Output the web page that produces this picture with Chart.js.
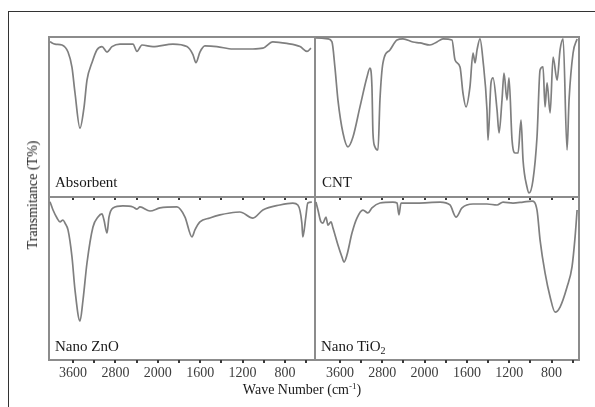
<!DOCTYPE html>
<html>
<head>
<meta charset="utf-8">
<script src="https://cdn.jsdelivr.net/npm/chart.js@4.4.1/dist/chart.umd.min.js"></script>
<style>
  body { margin: 0; background: #fff; }
  #page { position: relative; width: 595px; height: 407px; overflow: hidden; font-family: "Liberation Serif", serif; color: #1a1a1a; }
  #frame { position: absolute; left: 8px; top: 11px; width: 600px; height: 400px; border-top: 1px solid #333; border-left: 1px solid #333; }
  canvas { position: absolute; }
  .tag { position: absolute; font-size: 15px; line-height: 15px; white-space: nowrap; }
  .tag sub { font-size: 10px; line-height: 0; vertical-align: -3px; }
  #ytitle { position: absolute; left: 33px; top: 195px; font-size: 14px; white-space: nowrap; transform: translate(-50%, -50%) rotate(-90deg); }
  #xtitle { position: absolute; left: 302px; top: 383px; font-size: 14px; line-height: 14px; white-space: nowrap; transform: translateX(-50%); }
  #xtitle sup { font-size: 9px; line-height: 0; vertical-align: 5px; }
</style>
</head>
<body>
<div id="page">
  <div id="frame"></div>
  <canvas id="absorbent" width="286" height="180" style="left:39px;top:27px"></canvas>
  <canvas id="cnt" width="284" height="180" style="left:305px;top:27px"></canvas>
  <canvas id="zno" width="286" height="201" style="left:39px;top:187px"></canvas>
  <canvas id="tio2" width="284" height="201" style="left:305px;top:187px"></canvas>
  <div class="tag" style="left:55px;top:175px">Absorbent</div>
  <div class="tag" style="left:322px;top:175px">CNT</div>
  <div class="tag" style="left:55px;top:339px">Nano ZnO</div>
  <div class="tag" style="left:321px;top:339px">Nano TiO<sub>2</sub></div>
  <div id="ytitle">Transmitance (T%)</div>
  <div id="xtitle">Wave Number (cm<sup>-1</sup>)</div>
</div>
<script>
// axis ticks (cm-1), only some get a label
const tickValues = [3600, 3200, 2800, 2400, 2000, 1800, 1600, 1400, 1200, 1000, 800, 600];
const labelValues = [3600, 2800, 2000, 1600, 1200, 800];

// spectra: wave number and transmittance (% of panel height)
const absorbentWave = [4034,3940,3808,3694,3619,3562,3468,3392,3336,3241,3147,3053,2958,2864,2713,2468,2392,2298,2090,1857,1725,1668,1640,1602,1555,1442,1291,1103,1008,914,782,657,591,554];
const absorbentT = [97,95.6,95,90.6,81,65,43,56,73,84,92,94,90.6,94,95.6,95.6,91,95,94,95.6,94,89,84,90.6,94.4,94,92.5,92.5,93,97,96,94,91,93];

const cntWave = [4054,3827,3751,3695,3638,3543,3449,3354,3222,3089,3033,2995,2976,2938,2881,2844,2787,2655,2522,2409,2220,2087,1949,1883,1826,1741,1712,1665,1637,1608,1571,1542,1523,1504,1476,1448,1410,1400,1372,1353,1315,1296,1268,1249,1221,1202,1173,1145,1116,1088,1069,1031,1012,975,937,908,880,861,842,813,785,747,719,690,653,634,596,558];
const cntT = [99.4,98.8,96.9,81,60.6,40,31.3,37.5,56.3,75,80.6,68.8,40,31.3,29.4,60.6,83.8,91.9,98.1,98.8,96.9,96.3,95,96.9,98.8,98.1,85.6,81.3,65,56.3,68.8,90,83.8,91.9,98.8,85.6,54.4,35.6,71.3,74.4,54.4,40,60.6,77.5,60.6,74.4,35.6,27.5,27.5,48,23,6,2.5,10.6,37.5,79.4,81.3,56.3,71.3,52.5,87.5,73,91.9,98.8,29.4,60.6,90,98.8];

const znoWave = [4034,3977,3902,3845,3789,3751,3694,3619,3562,3468,3411,3336,3223,3128,3053,3015,2958,2921,2845,2657,2468,2392,2336,2147,1979,1819,1743,1677,1649,1602,1508,1413,1319,1225,1102,1008,848,725,678,640,631,603,584,546];
const znoT = [97.1,92,87.1,84.7,85.9,84,79.8,63.2,42.9,23.9,36.8,59.5,81.6,87.7,89.6,85.9,77.9,87.7,93.3,94.5,93.9,92.6,93.9,91.4,93.3,93.9,87.7,75.5,79.8,84.7,87.1,89,90.2,90.8,87.1,92,95.1,96.3,95.1,84,75.5,87.7,96.3,96.9];

const tio2Wave = [4054,4016,3959,3921,3865,3827,3770,3732,3638,3562,3524,3468,3373,3279,3165,3071,2995,2844,2598,2522,2484,2446,2144,1854,1760,1703,1646,1542,1410,1315,1258,1164,1069,984,937,908,861,813,766,719,653,606,577,558];
const tio2T = [96.9,92,84.7,84,87.7,82.8,84.7,81,70.6,63.2,60.1,64.4,77.9,87.1,92,90.2,93.3,96.3,96.9,96.3,89,96.3,96.3,96.9,95.1,87.7,93.3,95.7,95.7,95.1,96.9,96.3,96.9,97.5,92,73.6,53.4,38.7,29.4,32.5,44.8,57.1,75.5,92];

// FTIR axis: scale changes at 2000 cm-1 (400 per step above, 200 below)
function warp(v) { return v <= 2000 ? v / 200 : 10 + (v - 2000) / 400; }
function unwarp(u) { return u <= 10 ? u * 200 : 2000 + (u - 10) * 400; }

class WaveScale extends Chart.LinearScale {
  getPixelForValue(value) {
    const a = warp(this.min), b = warp(this.max);
    return this.getPixelForDecimal((warp(value) - a) / (b - a));
  }
  getValueForPixel(pixel) {
    const a = warp(this.min), b = warp(this.max);
    return unwarp(a + this.getDecimalForPixel(pixel) * (b - a));
  }
}
WaveScale.id = 'wave';
WaveScale.defaults = Chart.LinearScale.defaults;
Chart.register(WaveScale);

// grey box round each plot area
const boxPlugin = {
  id: 'box',
  beforeDraw(chart) {
    const a = chart.chartArea, ctx = chart.ctx;
    ctx.save();
    ctx.strokeStyle = '#8c8c8c';
    ctx.lineWidth = 2;
    ctx.strokeRect(a.left, a.top, a.right - a.left, a.bottom - a.top);
    ctx.restore();
  }
};

function panel(id, wave, trans, min, max, showLabels) {
  new Chart(document.getElementById(id), {
    type: 'line',
    data: {
      datasets: [{
        data: wave.map((w, i) => ({ x: w, y: trans[i] })),
        borderColor: '#7f7f7f',
        borderWidth: 1.7,
        pointRadius: 0,
        cubicInterpolationMode: 'monotone',
        fill: false
      }]
    },
    options: {
      responsive: false,
      animation: false,
      events: [],
      layout: { padding: { left: 10, right: 10, top: 10, bottom: 0 } },
      plugins: { legend: { display: false }, tooltip: { enabled: false } },
      scales: {
        x: {
          type: 'wave',
          min: min,
          max: max,
          reverse: true,
          afterBuildTicks: s => { s.ticks = tickValues.map(v => ({ value: v })); },
          afterFit: s => { s.height = showLabels ? 28 : 10; },
          grid: { drawOnChartArea: false, drawTicks: true, tickLength: 3, lineWidth: 2, color: '#3a3a3a' },
          border: { display: false },
          ticks: {
            display: showLabels,
            autoSkip: false,
            maxRotation: 0,
            padding: 2,
            color: '#3d3d3d',
            font: { family: 'Liberation Serif', size: 14 },
            callback: v => labelValues.includes(v) ? String(v) : ''
          }
        },
        y: { display: false, min: 0, max: 100 }
      }
    },
    plugins: [boxPlugin]
  });
}

panel('absorbent', absorbentWave, absorbentT, 516, 4053, false);
panel('cnt', cntWave, cntT, 540, 4072, false);
panel('zno', znoWave, znoT, 516, 4053, true);
panel('tio2', tio2Wave, tio2T, 540, 4072, true);
</script>
</body>
</html>
